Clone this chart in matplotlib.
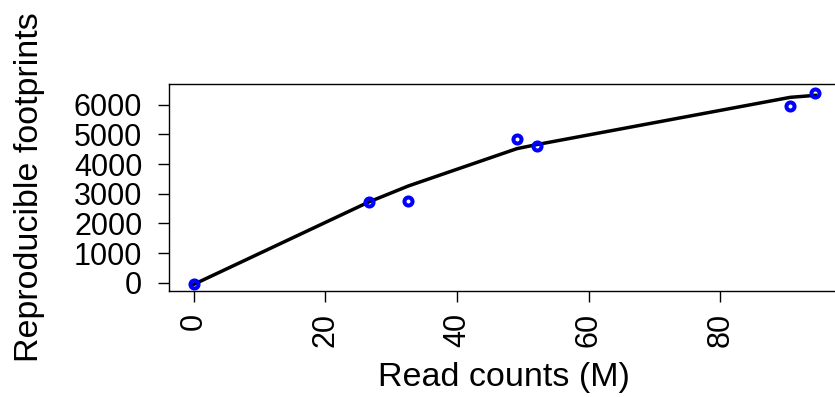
import matplotlib.pyplot as plt

plt.rcParams['font.family'] = ['Liberation Sans', 'DejaVu Sans']

# read counts (M) and reproducible footprints
reads = [0.0, 26.6, 32.6, 49.1, 52.1, 90.6, 94.4]
footprints = [-30, 2714, 2747, 4835, 4600, 5970, 6407]
# smoothed fit evaluated at the same read counts
fitted = [-60, 2720, 3260, 4520, 4656, 6250, 6317]

xticks = [0, 20, 40, 60, 80]
yticks = [0, 1000, 2000, 3000, 4000, 5000, 6000]

W, H = 835, 397
fig = plt.figure(figsize=(W / 100, H / 100), dpi=100)
ax = fig.add_axes([0.202, 0.2678, 0.8044, 0.5199])

ax.plot(reads, fitted, color='black', lw=2.5, zorder=2)
ax.plot(reads, footprints, 'o', mfc='none', mec='blue', ms=5.8, mew=2.9, zorder=3)

ax.set_xlim(-3.78, 98.2)
ax.set_ylim(-270, 6690)
ax.set_xticks(xticks)
ax.set_yticks(yticks)
ax.tick_params(axis='x', labelrotation=90, labelsize=22, length=8, width=1, pad=8)
ax.tick_params(axis='y', labelsize=22, length=8, width=1, pad=11)

for s in ax.spines.values():
    s.set_linewidth(1)

fig.text(504 / W, 1 - 386 / H, 'Read counts (M)', fontsize=24.5,
         ha='center', va='baseline')
fig.text(30 / W, 1 - 187.5 / H, 'Reproducible footprints', fontsize=24.5,
         rotation=90, ha='center', va='center')

fig.savefig('out.png', dpi=100)
